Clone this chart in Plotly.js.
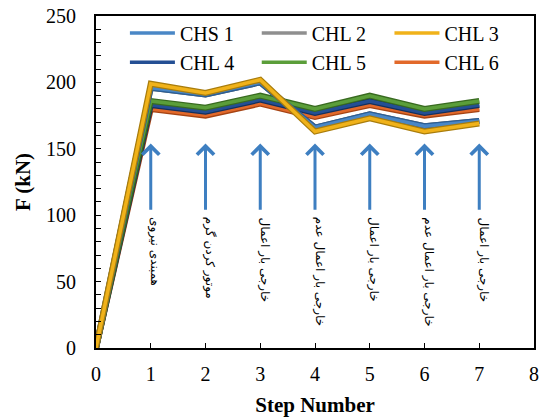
<!DOCTYPE html>
<html>
<head>
<meta charset="utf-8">
<script src="https://cdn.plot.ly/plotly-3.0.1.min.js"></script>
<style>html,body{margin:0;padding:0;background:#fff;}#chart{width:540px;height:419px;}</style>
</head>
<body>
<div id="chart"></div>
<script>
const steps = [0, 1, 2, 3, 4, 5, 6, 7];
const seriesNames = ["CHS 1", "CHL 2", "CHL 3", "CHL 4", "CHL 5", "CHL 6"];
const chs1 = [0, 196, 191, 200, 166, 176, 167, 171];
const chl2 = [0, 196, 191, 200, 166, 176, 167, 171];
const chl3 = [0, 199, 192, 202, 163, 173, 163, 169];
const chl4 = [0, 183, 178, 187, 177, 186, 177, 183];
const chl5 = [0, 186, 181, 190, 180, 190, 180, 186];
const chl6 = [0, 180, 175, 184, 174, 183, 175, 180];
const arrowSteps = [1, 2, 3, 4, 5, 6, 7];
const stepLabels = [
  "نیروی همبندی",
  "گرم کردن موتور",
  "اعمال بار خارجی",
  "عدم اعمال بار خارجی",
  "اعمال بار خارجی",
  "عدم اعمال بار خارجی",
  "اعمال بار خارجی"
];
const arrowTip = 154;
const arrowBase = 103;
const labelTop = 100;

const serif = '"Liberation Serif", "Times New Roman", Times, serif';
const values = {"CHS 1": chs1, "CHL 2": chl2, "CHL 3": chl3, "CHL 4": chl4, "CHL 5": chl5, "CHL 6": chl6};
const colors = {
  "CHS 1": ["#4a87c6", "#2c5f96"],
  "CHL 2": ["#8f8f8f", "#5f5f5f"],
  "CHL 3": ["#f0b21a", "#a97d0c"],
  "CHL 4": ["#244f94", "#14305e"],
  "CHL 5": ["#5b9e3a", "#386a20"],
  "CHL 6": ["#e2692a", "#a64414"]
};
const drawOrder = ["CHL 2", "CHL 6", "CHL 4", "CHL 5", "CHS 1", "CHL 3"];
const legendIds = ["legend", "legend2", "legend3", "legend4", "legend5", "legend6"];
const legendX = [0.066, 0.367, 0.670];
const legendY = [0.949, 0.861];

const traces = [];
drawOrder.forEach(name => {
  const idx = seriesNames.indexOf(name);
  traces.push({x: steps, y: values[name], mode: "lines", showlegend: false, hoverinfo: "skip",
    line: {color: colors[name][1], width: 6}});
  traces.push({x: steps, y: values[name], mode: "lines", name: name,
    legend: legendIds[idx],
    line: {color: colors[name][0], width: 3.5}});
});

const annotations = [];
arrowSteps.forEach((s, i) => {
  annotations.push({x: s, y: arrowTip, ax: s, ay: arrowBase, axref: "x", ayref: "y", xref: "x", yref: "y",
    text: "", showarrow: true, arrowhead: 4, arrowsize: 1.1, arrowwidth: 3, arrowcolor: "#3e7fc1"});
  annotations.push({x: s + 0.07, y: labelTop, xref: "x", yref: "y",
    text: stepLabels[i].split(" ").join("\u200E \u200E"), showarrow: false,
    textangle: 90, xanchor: "center", yanchor: "top",
    font: {family: "DejaVu Sans", size: 12, color: "#000"}});
});

const layout = {
  width: 540, height: 419,
  margin: {l: 96, r: 6, t: 16, b: 71},
  paper_bgcolor: "#fff", plot_bgcolor: "#fff",
  font: {family: serif, size: 20, color: "#000"},
  xaxis: {range: [0, 8], dtick: 1, tick0: 0, ticks: "inside", ticklen: 5, tickcolor: "#000",
    showgrid: false, zeroline: false, showline: true, linecolor: "#000", linewidth: 2, mirror: true,
    ticklabelstandoff: 7, tickfont: {family: serif, size: 20},
    title: {text: "<b>Step Number</b>", font: {family: serif, size: 21}, standoff: 13}},
  yaxis: {range: [0, 250], dtick: 50, tick0: 0, ticks: "inside", ticklen: 5, tickcolor: "#000",
    minor: {dtick: 10, ticks: "inside", ticklen: 5, tickcolor: "#000", showgrid: false},
    showgrid: false, zeroline: false, showline: true, linecolor: "#000", linewidth: 2, mirror: true,
    ticklabelstandoff: 14, tickfont: {family: serif, size: 20},
    title: {text: "<b>F (kN)</b>", font: {family: serif, size: 21}, standoff: 10}},
  annotations: annotations
};
legendIds.forEach((id, k) => {
  layout[id] = {x: legendX[k % 3], y: legendY[Math.floor(k / 3)], xanchor: "left", yanchor: "middle",
    itemwidth: 45, bgcolor: "rgba(0,0,0,0)", font: {family: serif, size: 20, color: "#000"}};
});

Plotly.newPlot("chart", traces, layout, {displayModeBar: false, staticPlot: true});
</script>
</body>
</html>
